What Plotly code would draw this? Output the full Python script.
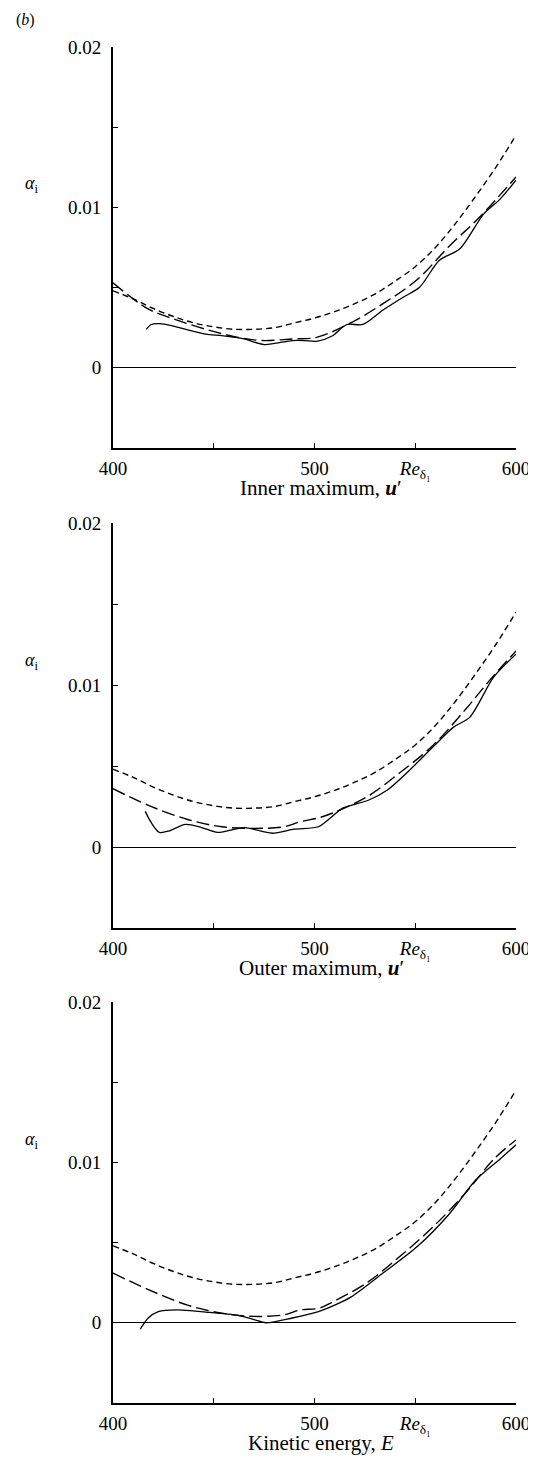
import plotly.graph_objects as go

# shared short-dash curve (same in all three panels)
re_short = [400, 410, 420, 430, 440, 450, 460, 470, 480, 490, 500,
            510, 520, 530, 540, 550, 560, 570, 580, 590, 600]
a_short = [0.0048, 0.0043, 0.0037, 0.0032, 0.0028, 0.00255, 0.0024, 0.0024, 0.0025, 0.0028, 0.0031,
           0.0035, 0.0040, 0.0046, 0.0054, 0.0063, 0.0075, 0.0090, 0.0107, 0.0125, 0.0145]

# inner maximum, u'
re_long1 = [400, 417, 429, 446, 462, 474, 489, 501, 518, 534, 551, 567, 582, 600]
a_long1 = [0.0053, 0.0037, 0.0031, 0.0024, 0.0019, 0.0017, 0.0018, 0.0019, 0.0028, 0.0040, 0.0055, 0.0076, 0.0094, 0.0119]
re_solid1 = [416.5, 419, 423, 430, 446, 454, 465, 475, 489, 495, 501, 509, 516, 524, 534, 544, 552, 562, 572, 584, 592, 600]
a_solid1 = [0.0024, 0.0027, 0.00275, 0.0026, 0.0021, 0.0020, 0.0018, 0.00145, 0.0017, 0.0017, 0.00165, 0.0020, 0.0027,
            0.0027, 0.0036, 0.0044, 0.0050, 0.0067, 0.0074, 0.0096, 0.0105, 0.0117]

# outer maximum, u'
re_long2 = [400, 417, 437, 454, 470, 485, 493, 502, 509, 526, 542, 559, 575, 587, 600]
a_long2 = [0.0036, 0.0026, 0.0017, 0.00125, 0.00115, 0.00125, 0.00156, 0.0018, 0.0021, 0.0031, 0.00455, 0.0063, 0.0085, 0.0103, 0.0121]
re_solid2 = [416, 419, 423, 428, 436, 444, 452, 465, 479, 490, 502, 508, 514, 527, 536, 546, 559, 569, 577, 589, 600]
a_solid2 = [0.0022, 0.0015, 0.0009, 0.0010, 0.0014, 0.0012, 0.0009, 0.0012, 0.00085, 0.0011, 0.00125, 0.0018, 0.0024,
            0.0029, 0.0035, 0.0046, 0.0062, 0.0074, 0.0080, 0.0105, 0.0119]

# kinetic energy, E
re_long3 = [400, 417, 437, 454, 470, 485, 493, 502, 509, 526, 542, 559, 575, 589, 600]
a_long3 = [0.0031, 0.0021, 0.0011, 0.0006, 0.0004, 0.0005, 0.0008, 0.0009, 0.0013, 0.0025, 0.0041, 0.0060, 0.0081, 0.0102, 0.0114]
re_solid3 = [413.5, 417.5, 422.5, 432, 446, 462, 470, 476, 489, 502, 510, 518, 534, 551, 567, 580, 592, 600]
a_solid3 = [-0.0004, 0.0003, 0.0007, 0.0008, 0.00067, 0.00046, 0.0002, 0.0, 0.0003, 0.0007, 0.0011, 0.0016, 0.0031,
            0.00475, 0.0068, 0.0089, 0.0102, 0.0111]

panel_titles = ["Inner maximum, <b><i>u</i></b>′", "Outer maximum, <b><i>u</i></b>′", "Kinetic energy, <i>E</i>"]
x_tickvals = [400, 500, 550, 600]
x_ticktext = ["400", "500", "<i>Re</i><sub>δ₁</sub>", "600"]
y_tickvals = [0, 0.01, 0.02]
y_ticktext = ["0", "0.01", "0.02"]

# the page has an 8px body margin, so the figure is made 8px smaller and
# positions below are given in page pixels and shifted back by OFF
OFF = 8
W = 536.0 - OFF
H = 1457.0 - OFF
FONT = "Liberation Serif"


def px_x(p):
    return (p - OFF) / W


def px_y(p):
    return 1 - (p - OFF) / H


# panel pixel boxes on the page (top, bottom)
boxes = [(47, 448), (523, 928), (1002, 1403)]

fig = go.Figure()
panels = [(re_long1, a_long1, re_solid1, a_solid1),
          (re_long2, a_long2, re_solid2, a_solid2),
          (re_long3, a_long3, re_solid3, a_solid3)]

for i, (rl, al, rs, as_) in enumerate(panels):
    xa = "x" if i == 0 else "x%d" % (i + 1)
    ya = "y" if i == 0 else "y%d" % (i + 1)
    fig.add_trace(go.Scatter(x=re_short, y=a_short, mode="lines", xaxis=xa, yaxis=ya,
                             line=dict(color="black", width=1.4, dash="6px,4px", shape="spline")))
    fig.add_trace(go.Scatter(x=rl, y=al, mode="lines", xaxis=xa, yaxis=ya,
                             line=dict(color="black", width=1.4, dash="13px,5px", shape="spline")))
    fig.add_trace(go.Scatter(x=rs, y=as_, mode="lines", xaxis=xa, yaxis=ya,
                             line=dict(color="black", width=1.3, shape="spline", smoothing=0.8)))

    top, bot = boxes[i]
    xkey = "xaxis" if i == 0 else "xaxis%d" % (i + 1)
    ykey = "yaxis" if i == 0 else "yaxis%d" % (i + 1)
    fig.update_layout({
        xkey: dict(domain=[px_x(113), px_x(516)], range=[400, 600], anchor=ya, automargin=False,
                   showgrid=False, zeroline=False, showline=True, linecolor="black", linewidth=1.6,
                   ticks="inside", ticklen=5, tickcolor="black", tickvals=x_tickvals, ticktext=x_ticktext,
                   minor=dict(ticks="inside", ticklen=5, tickcolor="black", dtick=50, tick0=400, showgrid=False),
                   tickfont=dict(family=FONT, size=19, color="black"), ticklabelstandoff=2),
        ykey: dict(domain=[px_y(bot), px_y(top)], range=[-0.005, 0.02], anchor=xa, automargin=False,
                   showgrid=False, zeroline=True, zerolinecolor="black", zerolinewidth=1.2,
                   showline=True, linecolor="black", linewidth=2,
                   ticks="inside", ticklen=5, tickcolor="black", tickvals=y_tickvals, ticktext=y_ticktext,
                   minor=dict(ticks="inside", ticklen=5, tickcolor="black", dtick=0.005, tick0=0, showgrid=False),
                   tickfont=dict(family=FONT, size=19, color="black"), ticklabelstandoff=6),
    })
    # panel caption under the axis
    fig.add_annotation(text=panel_titles[i], xref="paper", yref="paper",
                       x=px_x(321), y=px_y(bot + 40), xanchor="center", yanchor="middle",
                       showarrow=False, font=dict(family=FONT, size=21, color="black"))
    # alpha_i label
    fig.add_annotation(text="<i>α</i><sub>i</sub>", xref="paper", yref="paper",
                       x=px_x(31), y=px_y(top + 138), xanchor="center", yanchor="middle",
                       showarrow=False, font=dict(family=FONT, size=18, color="black"))

fig.add_annotation(text="(<i>b</i>)", xref="paper", yref="paper", x=px_x(25), y=px_y(20),
                   xanchor="center", yanchor="middle",
                   showarrow=False, font=dict(family=FONT, size=16, color="black"))

fig.update_layout(width=W, height=H, margin=dict(l=0, r=0, t=0, b=0, autoexpand=False),
                  paper_bgcolor="white", plot_bgcolor="white", showlegend=False)

fig.write_html("out.html")
